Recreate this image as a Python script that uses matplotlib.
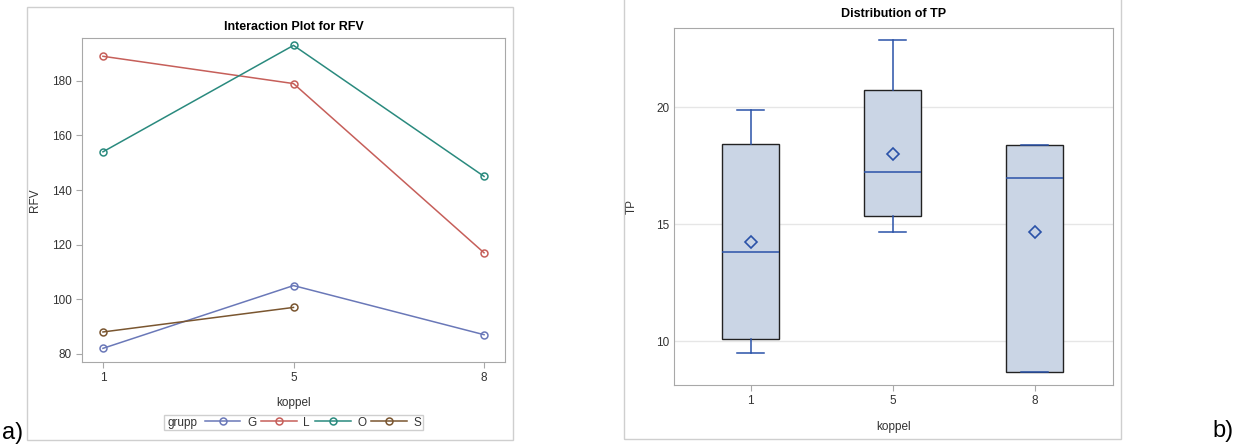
import numpy as np
import matplotlib.pyplot as plt
from matplotlib.patches import Rectangle

plt.rcParams['font.family'] = ['Liberation Sans', 'DejaVu Sans']

W, H = 1239, 447

# ---------------------------------------------------------------
# Data
# ---------------------------------------------------------------
koppel = ['1', '5', '8']
groups = ['G', 'L', 'O', 'S']
rfv_G = [82, 105, 87]
rfv_L = [189, 179, 117]
rfv_O = [154, 193, 145]
rfv_S = [88, 97]
group_colors = ['#6a78b8', '#c65f5a', '#2a8a7e', '#7a5630']

tp_whislo = [9.47, 14.66, 8.66]
tp_q1 = [10.07, 15.33, 8.66]
tp_med = [13.79, 17.22, 16.95]
tp_mean = [14.22, 18.0, 14.65]
tp_q3 = [18.41, 20.71, 18.38]
tp_whishi = [19.87, 22.86, 18.38]


def px_axes(fig, x0, y0, x1, y1):
    return fig.add_axes([x0 / W, 1 - y1 / H, (x1 - x0) / W, (y1 - y0) / H])


def px_frame(fig, x0, y0, x1, y1):
    fig.patches.append(Rectangle((x0 / W, 1 - y1 / H), (x1 - x0) / W, (y1 - y0) / H,
                                 transform=fig.transFigure, fill=False,
                                 edgecolor='#cfcfcf', linewidth=1))


def style_axes(ax):
    for s in ax.spines.values():
        s.set_color('#a8a8a8')
    ax.tick_params(colors='#a8a8a8', labelcolor='#333333', labelsize=8.5, length=4)


fig = plt.figure(figsize=(W / 100, H / 100), dpi=100)

# ---------------------------------------------------------------
# a) Interaction plot
# ---------------------------------------------------------------
px_frame(fig, 27, 7, 513, 440)
ax1 = px_axes(fig, 82, 38, 505, 362)
style_axes(ax1)
series = [rfv_G, rfv_L, rfv_O, rfv_S]
x = np.arange(len(koppel))
handles = []
for name, vals, col in zip(groups, series, group_colors):
    ln, = ax1.plot(x[:len(vals)], vals, color=col, lw=1.1, marker='o', ms=5,
                   mfc='none', mec=col, mew=1.1, label=name)
    handles.append(ln)
ax1.set_xlim(-0.11, 2.11)
ax1.set_ylim(77, 195.7)
ax1.set_xticks(x)
ax1.set_xticklabels(koppel)
ax1.set_yticks([80, 100, 120, 140, 160, 180])
ax1.set_xlabel('koppel', fontsize=8.5, color='#333333')
ax1.set_ylabel('RFV', fontsize=8.5, color='#333333')
ax1.xaxis.set_label_coords(0.5, -0.108)
ax1.yaxis.set_label_coords(-0.097, 0.5)
ax1.set_title('Interaction Plot for RFV', fontsize=9, fontweight='bold', pad=6)

px_frame(fig, 164, 415, 423, 430)
fig.text(168 / W, 1 - 423 / H, 'grupp', fontsize=8.5, color='#333333', va='center')
fig.legend(handles=handles, loc='center left', bbox_to_anchor=(205 / W, 1 - 422.5 / H),
           ncol=4, frameon=False, fontsize=8.5, handlelength=3.0, handletextpad=0.55,
           columnspacing=0.45, borderpad=0, borderaxespad=0, labelcolor='#333333')

fig.text(2 / W, 1 - 433 / H, 'a)', fontsize=17, va='center', ha='left')

# ---------------------------------------------------------------
# b) Box plot
# ---------------------------------------------------------------
px_frame(fig, 624, -2, 1121, 439)
ax2 = px_axes(fig, 674, 28, 1113, 385)
style_axes(ax2)
ax2.tick_params(axis='y', length=0)
ax2.set_axisbelow(True)
ax2.yaxis.grid(True, color='#e6e6e6', lw=1)
stats = []
for i in range(len(koppel)):
    stats.append(dict(whislo=tp_whislo[i], q1=tp_q1[i], med=tp_med[i], mean=tp_mean[i],
                      q3=tp_q3[i], whishi=tp_whishi[i], fliers=[]))
blue = '#2a52a8'
ax2.bxp(stats, positions=np.arange(len(koppel)), widths=0.4, showmeans=True,
        patch_artist=True, manage_ticks=False,
        boxprops=dict(facecolor='#cad5e5', edgecolor='#222222', lw=1),
        medianprops=dict(color=blue, lw=1.1),
        whiskerprops=dict(color=blue, lw=1.1),
        capprops=dict(color=blue, lw=1.1),
        capwidths=0.19,
        meanprops=dict(marker='D', ms=6, mfc='none', mec=blue, mew=1.2))
ax2.set_xlim(-0.54, 2.55)
ax2.set_ylim(8.12, 23.38)
ax2.set_xticks(np.arange(len(koppel)))
ax2.set_xticklabels(koppel)
ax2.set_yticks([10, 15, 20])
ax2.set_xlabel('koppel', fontsize=8.5, color='#333333')
ax2.set_ylabel('TP', fontsize=8.5, color='#333333')
ax2.xaxis.set_label_coords(0.5, -0.101)
ax2.yaxis.set_label_coords(-0.082, 0.5)
ax2.set_title('Distribution of TP', fontsize=9, fontweight='bold', pad=8)

fig.text(1212 / W, 1 - 431 / H, 'b)', fontsize=17, va='center', ha='left')

fig.savefig('out.png', dpi=100)
